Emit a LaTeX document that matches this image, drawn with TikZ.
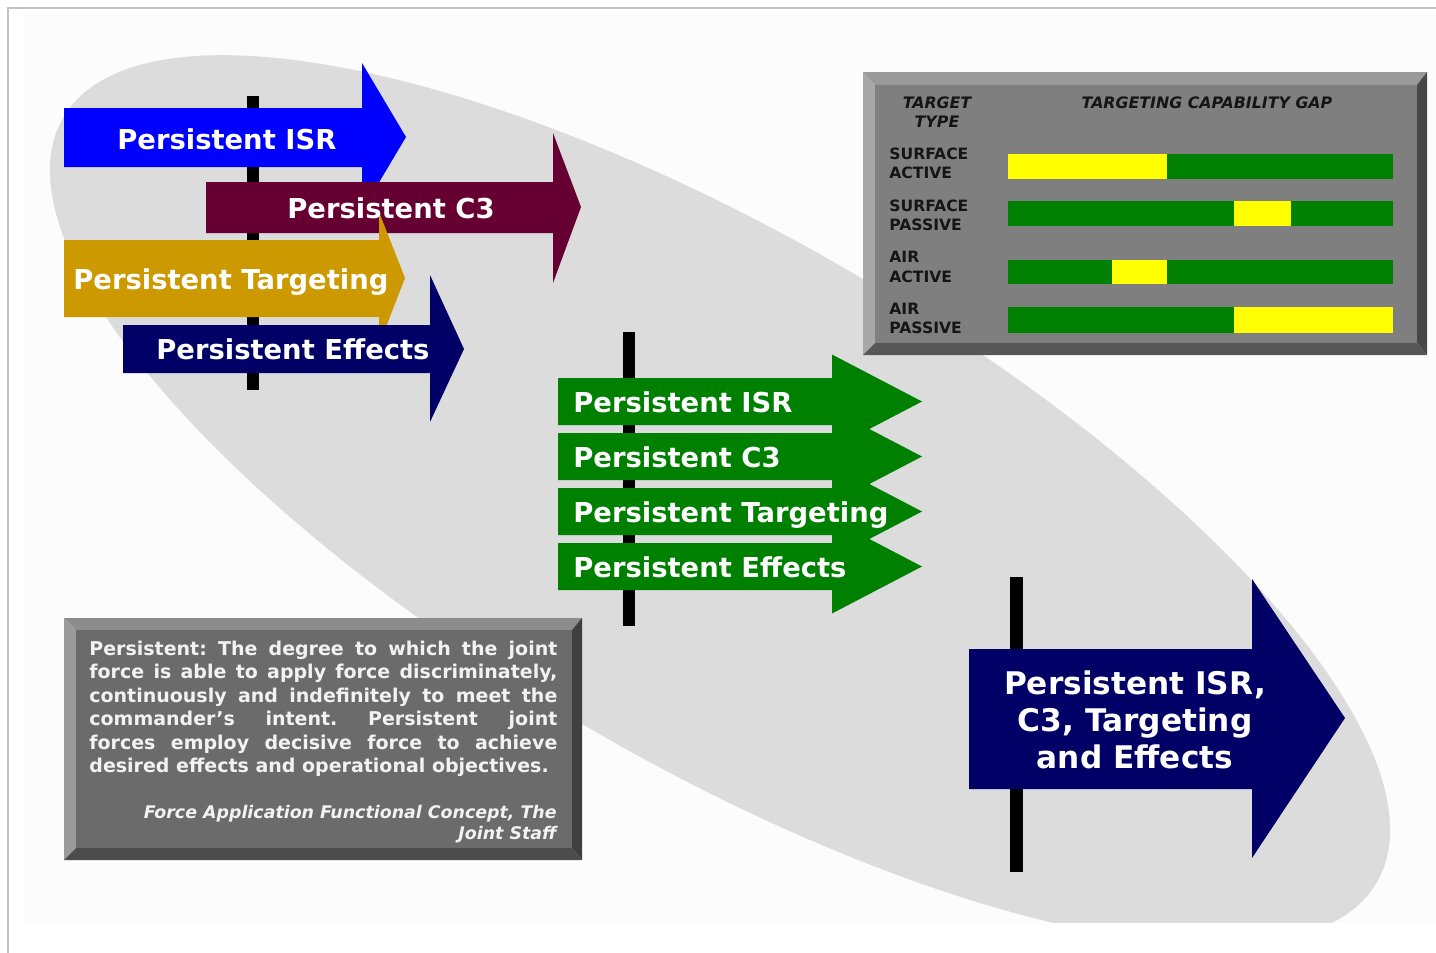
\documentclass[tikz,border=0pt]{standalone}
\usepackage{fontspec}
\setmainfont{DejaVu Sans}
\frenchspacing
\definecolor{ellgray}{HTML}{DCDCDC}
\definecolor{slidebg}{HTML}{FCFCFC}
\definecolor{bordergray}{HTML}{C3C3C3}
\definecolor{isrblue}{HTML}{0000FF}
\definecolor{cmaroon}{HTML}{660033}
\definecolor{tgold}{HTML}{CC9900}
\definecolor{navy}{HTML}{000066}
\definecolor{pgreen}{HTML}{008000}
\definecolor{gapyellow}{HTML}{FFFF00}
\definecolor{tbface}{HTML}{7F7F7F}
\definecolor{tbtop}{HTML}{9A9A9A}
\definecolor{tbleft}{HTML}{A8A8A8}
\definecolor{tbright}{HTML}{474747}
\definecolor{tbbot}{HTML}{575757}
\definecolor{bxface}{HTML}{6B6B6B}
\definecolor{bxtop}{HTML}{8C8C8C}
\definecolor{bxleft}{HTML}{9A9A9A}
\definecolor{bxright}{HTML}{3F3F3F}
\definecolor{bxbot}{HTML}{4C4C4C}
\definecolor{darktext}{HTML}{151515}
\definecolor{boxtext}{HTML}{F2F2F2}
\begin{document}
\begin{tikzpicture}[x=0.5pt,y=-0.5pt,
  lbl/.style={text=white,font=\fontsize{13.7}{16}\selectfont\bfseries,inner sep=0,anchor=base west},
  biglbl/.style={text=white,font=\fontsize{15.6}{18}\selectfont\bfseries,inner sep=0,anchor=base},
  hdr/.style={text=darktext,font=\fontsize{7.9}{9.5}\selectfont\bfseries\itshape,inner sep=0,anchor=base},
  rowlbl/.style={text=darktext,font=\fontsize{7.8}{9.5}\selectfont\bfseries,inner sep=0,anchor=base west},
  cite/.style={text=boxtext,font=\fontsize{8.7}{10.5}\selectfont\bfseries\itshape,inner sep=0,anchor=base east},
  blackbar/.style={fill=black}]
\useasboundingbox (0,0) rectangle (1436,953);
\fill[white] (0,0) rectangle (1436,953);
\fill[slidebg] (23,10) rectangle (1436,922);
\draw[bordergray,line width=1pt] (8,953) -- (8,8) -- (1436,8);
% big ellipse
\begin{scope}
\clip (0,0) rectangle (1436,922);
\fill[ellgray,rotate around={-30.2:(720,500)}] (720,500) ellipse [x radius=760, y radius=263];
\end{scope}
% table box
\fill[tbtop] (863,72) -- (1427,72) -- (1417,85) -- (875,85) -- cycle;
\fill[tbleft] (863,72) -- (875,85) -- (875,343) -- (863,355) -- cycle;
\fill[tbright] (1427,72) -- (1427,355) -- (1417,343) -- (1417,85) -- cycle;
\fill[tbbot] (863,355) -- (1427,355) -- (1417,343) -- (875,343) -- cycle;
\fill[tbface] (875,85) rectangle (1417,343);
\node[hdr] (tt1) at (937,108) {TARGET};
\node[hdr] (tt2) at (937,127) {TYPE};
\node[hdr] (tgap) at (1207,108) {TARGETING CAPABILITY GAP};
\node[rowlbl] (r1a) at (889,159) {SURFACE};
\node[rowlbl] (r1b) at (889,178) {ACTIVE};
\node[rowlbl] (r2a) at (889,211) {SURFACE};
\node[rowlbl] (r2b) at (889,230) {PASSIVE};
\node[rowlbl] (r3a) at (889,262) {AIR};
\node[rowlbl] (r3b) at (889,282) {ACTIVE};
\node[rowlbl] (r4a) at (889,314) {AIR};
\node[rowlbl] (r4b) at (889,333) {PASSIVE};
\fill[pgreen] (1008,154) rectangle (1393,179);
\fill[gapyellow] (1008,154) rectangle (1167,179);
\fill[pgreen] (1008,201) rectangle (1393,226);
\fill[gapyellow] (1234,201) rectangle (1291,226);
\fill[pgreen] (1008,260) rectangle (1393,284);
\fill[gapyellow] (1112,260) rectangle (1167,284);
\fill[pgreen] (1008,307) rectangle (1393,333);
\fill[gapyellow] (1234,307) rectangle (1393,333);
% definition box
\fill[bxtop] (64,618) -- (582,618) -- (572,630) -- (76,630) -- cycle;
\fill[bxleft] (64,618) -- (76,630) -- (76,848) -- (64,860) -- cycle;
\fill[bxright] (582,618) -- (582,860) -- (572,848) -- (572,630) -- cycle;
\fill[bxbot] (64,860) -- (582,860) -- (572,848) -- (76,848) -- cycle;
\fill[bxface] (76,630) rectangle (572,848);
\node[text=boxtext,font=\fontsize{9.5}{11.75}\selectfont\bfseries,inner sep=0,anchor=base west,text width=234pt,align=justify] (deftext) at (89,655)
 {Persistent: The degree to which the joint\linebreak force is able to apply force discriminately,\linebreak continuously and indefinitely to meet the\linebreak commander’s intent. Persistent joint\linebreak forces employ decisive force to achieve\linebreak desired effects and operational objectives.};
\node[cite] (cite1) at (557,818) {Force Application Functional Concept, The};
\node[cite] (cite2) at (557,839) {Joint Staff};
% top-left group
\fill[blackbar] (247,96) rectangle (259,390);
\fill[isrblue] (64,108) -- (362,108) -- (362,63) -- (406,137) -- (362,211) -- (362,167) -- (64,167) -- cycle;
\fill[cmaroon] (206,182) -- (553,182) -- (553,133) -- (581,207) -- (553,283) -- (553,233) -- (206,233) -- cycle;
\fill[tgold] (64,240) -- (379,240) -- (379,212) -- (405,278) -- (379,345) -- (379,317) -- (64,317) -- cycle;
\fill[navy] (123,325) -- (430,325) -- (430,275) -- (464,349) -- (430,422) -- (430,373) -- (123,373) -- cycle;
\node[lbl] (isr1) at (117,149) {Persistent ISR};
\node[lbl] (c31) at (287,218) {Persistent C3};
\node[lbl] (tgt1) at (73,289) {Persistent Targeting};
\node[lbl] (eff1) at (156,359) {Persistent Effects};
% green group
\fill[blackbar] (623,332) rectangle (635,626);
\foreach \c in {401.5,456.5,511.5,566.5}{
  \fill[pgreen] (558,\c-23.5) -- (832,\c-23.5) -- (832,\c-47) -- (922,\c) -- (832,\c+47) -- (832,\c+23.5) -- (558,\c+23.5) -- cycle;
}
\node[lbl] (isr2) at (573,412) {Persistent ISR};
\node[lbl] (c32) at (573,467) {Persistent C3};
\node[lbl] (tgt2) at (573,522) {Persistent Targeting};
\node[lbl] (eff2) at (573,577) {Persistent Effects};
% big arrow
\fill[blackbar] (1010,577) rectangle (1023,872);
\fill[navy] (969,649) -- (1252,649) -- (1252,579) -- (1345,718) -- (1252,858) -- (1252,789) -- (969,789) -- cycle;
\node[biglbl] (big1) at (1135,694) {Persistent ISR,};
\node[biglbl] (big2) at (1135,731) {C3, Targeting};
\node[biglbl] (big3) at (1135,768) {and Effects};
\end{tikzpicture}
\end{document}
